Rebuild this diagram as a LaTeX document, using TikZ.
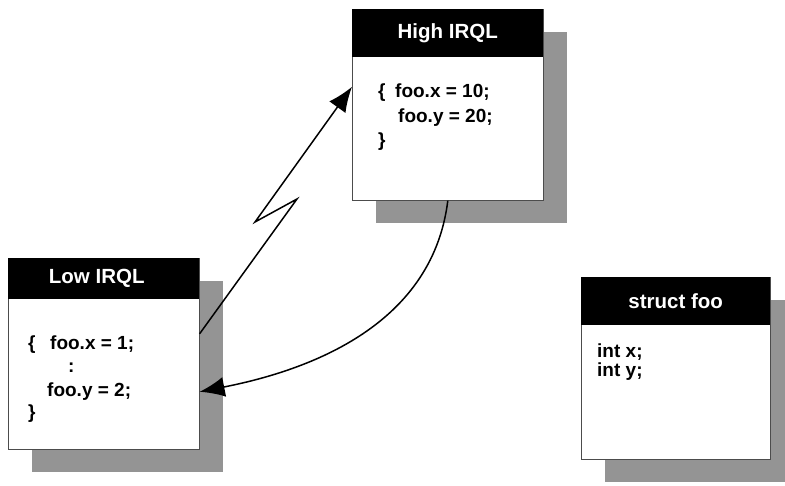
\documentclass[tikz,border=0pt]{standalone}
\usepackage{fontspec}
\setmainfont{Liberation Sans}
\usetikzlibrary{arrows.meta, shadows}

\begin{document}
\begin{tikzpicture}[x = 1pt, y = -1pt, > = {Latex[length = 25pt, width = 20pt]},
	box/.style = {draw = black!70, line width = 0.6pt, fill = white, anchor = north west, inner sep = 0pt,
		drop shadow = {shadow xshift = 24pt, shadow yshift = -23pt, fill = black!42, opacity = 1}},
	head/.style = {fill = black, text = white, anchor = north west, inner sep = 0pt, font = \fontsize{20.5}{24}\selectfont\bfseries},
	code/.style = {anchor = base west, inner sep = 0pt, font = \fontsize{19}{23}\selectfont\bfseries}]

	% Frame

	\useasboundingbox (0, 0) rectangle (785, 486);

	% High IRQL box

	\node [box, minimum width = 191pt, minimum height = 191pt] (high) at (352, 9) {};
	\node [head, minimum width = 191pt, minimum height = 48pt] (highhead) at (high.north west) {High IRQL};
	\node [code] (hbrace) at (378, 98) {\{};
	\node [code] (hx) at (395, 98) {foo.x = 10;};
	\node [code] (hy) at (398, 123) {foo.y = 20;};
	\node [code] (hend) at (378, 147) {\}};

	% Low IRQL box

	\node [box, minimum width = 191pt, minimum height = 191pt] (low) at (8, 258) {};
	\node [head, minimum width = 191pt, minimum height = 41pt] (lowhead) at (low.north west) {\hspace{-14pt}Low IRQL};
	\node [code] (lbrace) at (28, 350) {\{};
	\node [code] (lx) at (50, 350) {foo.x = 1;};
	\node [code] (ldots) at (68, 373) {:};
	\node [code] (ly) at (47, 396) {foo.y = 2;};
	\node [code] (lend) at (28, 418) {\}};

	% struct foo box

	\node [box, minimum width = 189pt, minimum height = 182pt] (foo) at (581, 277) {};
	\node [head, minimum width = 189pt, minimum height = 48pt] (foohead) at (foo.north west) {struct foo};
	\node [code] (fx) at (597, 358) {int x;};
	\node [code] (fy) at (597, 377) {int y;};

	% Interrupt (zigzag)

	\coordinate (bolt1) at (297, 199);
	\coordinate (bolt2) at (255, 222);
	\draw [->, line width = 1.5pt] ([yshift = 20pt]low.east) -- (bolt1) -- (bolt2) -- ([yshift = 18pt]high.west);

	% Return

	\draw [->, line width = 1.5pt] (high.south) .. controls (432, 330) and (300, 372) .. ([yshift = -38pt]low.east);

\end{tikzpicture}
\end{document}
